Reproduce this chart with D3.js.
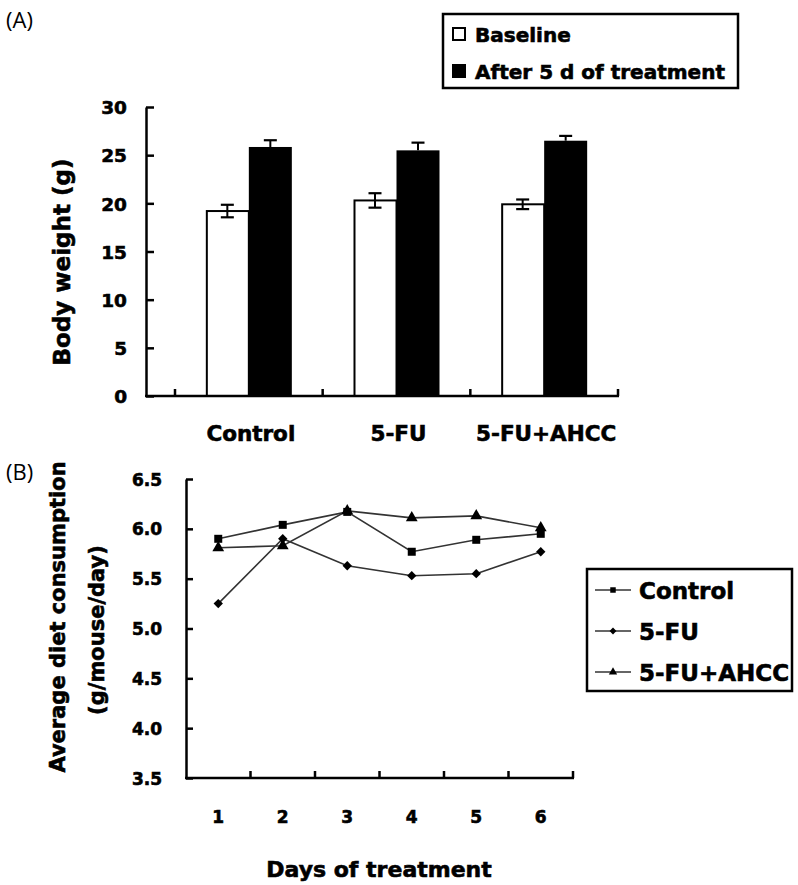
<!DOCTYPE html>
<html>
<head>
<meta charset="utf-8">
<script src="https://cdn.jsdelivr.net/npm/d3@7/dist/d3.min.js"></script>
<style>
  html, body { margin: 0; padding: 0; background: #fff; }
  svg { display: block; }
  .bold { font-family: "DejaVu Sans", sans-serif; font-weight: bold; fill: #000; stroke: #000; stroke-width: 0.6px; }
  .panel { font-family: "Open Sans", "Noto Sans", sans-serif; fill: #000; }
</style>
</head>
<body>
<script>
// ---------- Panel A data ----------
const categoriesA = ["Control", "5-FU", "5-FU+AHCC"];
const seriesA = ["Baseline", "After 5 d of treatment"];
const baselineVals = [19.2, 20.3, 19.9];
const baselineErr = [0.65, 0.75, 0.5];
const afterVals = [25.85, 25.5, 26.5];
const afterErr = [0.7, 0.8, 0.5];
const yTicksA = [0, 5, 10, 15, 20, 25, 30];

// ---------- Panel B data ----------
const days = [1, 2, 3, 4, 5, 6];
const seriesB = ["Control", "5-FU", "5-FU+AHCC"];
const controlDiet = [5.90, 6.04, 6.17, 5.77, 5.89, 5.95];
const fuDiet = [5.25, 5.90, 5.63, 5.53, 5.55, 5.77];
const ahccDiet = [5.81, 5.83, 6.18, 6.11, 6.13, 6.01];
const yTicksB = [3.5, 4.0, 4.5, 5.0, 5.5, 6.0, 6.5];

const W = 798, H = 885;
const svg = d3.select("body").append("svg").attr("width", W).attr("height", H);

// ================= PANEL A =================
const gA = svg.append("g");
gA.append("text").attr("class", "panel").attr("x", 6).attr("y", 28)
  .attr("font-size", 22).text("(A)");

const yA = d3.scaleLinear().domain([0, 30]).range([396, 107]);
const axisLeftX = 146;
const xA = d3.scaleBand().domain(categoriesA).range([175, 618]);
const barW = 43;
const xSub = d3.scaleBand().domain(seriesA)
  .range([xA.bandwidth() / 2 - barW, xA.bandwidth() / 2 + barW]);

const dataA = categoriesA.map((c, i) => ({
  c,
  vals: [
    { s: seriesA[0], v: baselineVals[i], e: baselineErr[i] },
    { s: seriesA[1], v: afterVals[i], e: afterErr[i] }
  ]
}));

const grp = gA.selectAll(".grp").data(dataA).join("g")
  .attr("transform", d => `translate(${xA(d.c)},0)`);

grp.selectAll("rect").data(d => d.vals).join("rect")
  .attr("x", d => xSub(d.s) + (d.s === seriesA[0] ? 1 : 0))
  .attr("width", d => xSub.bandwidth() - (d.s === seriesA[0] ? 1 : 0))
  .attr("y", d => yA(d.v))
  .attr("height", d => yA(0) - yA(d.v))
  .attr("fill", d => d.s === seriesA[0] ? "#fff" : "#000")
  .attr("stroke", "#000")
  .attr("stroke-width", d => d.s === seriesA[0] ? 2 : 0);

const capW = 13;
grp.selectAll(".err").data(d => d.vals).join("g").attr("class", "err")
  .each(function (d) {
    const g = d3.select(this);
    const cx = xSub(d.s) + xSub.bandwidth() / 2;
    const isBase = d.s === seriesA[0];
    const lo = isBase ? d.v - d.e : d.v;
    g.append("line").attr("x1", cx).attr("x2", cx)
      .attr("y1", yA(lo)).attr("y2", yA(d.v + d.e))
      .attr("stroke", "#000").attr("stroke-width", 2);
    g.append("line").attr("x1", cx - capW / 2).attr("x2", cx + capW / 2)
      .attr("y1", yA(d.v + d.e)).attr("y2", yA(d.v + d.e))
      .attr("stroke", "#000").attr("stroke-width", 2.2);
    if (isBase) {
      g.append("line").attr("x1", cx - capW / 2).attr("x2", cx + capW / 2)
        .attr("y1", yA(d.v - d.e)).attr("y2", yA(d.v - d.e))
        .attr("stroke", "#000").attr("stroke-width", 2.2);
    }
  });

const yAxisA = gA.append("g").attr("transform", `translate(${axisLeftX},0)`)
  .call(d3.axisLeft(yA).tickValues(yTicksA).tickFormat(d3.format("d"))
    .tickSize(-8).tickSizeOuter(0).tickPadding(19));
yAxisA.select(".domain").attr("stroke-width", 2.5);
yAxisA.selectAll(".tick line").attr("stroke-width", 2.5);
yAxisA.selectAll("text").attr("class", "bold").attr("font-size", 18.5)
  .attr("dy", "0.36em");

gA.append("line").attr("x1", axisLeftX - 1).attr("x2", xA.range()[1] + 1)
  .attr("y1", yA(0)).attr("y2", yA(0))
  .attr("stroke", "#000").attr("stroke-width", 2.5);
const boundsA = categoriesA.map(c => xA(c)).concat([xA.range()[1]]);
gA.selectAll(".xtickA").data(boundsA).join("line")
  .attr("x1", d => d).attr("x2", d => d)
  .attr("y1", yA(0)).attr("y2", yA(0) - 7)
  .attr("stroke", "#000").attr("stroke-width", 2.5);
gA.selectAll(".xlabA").data(categoriesA).join("text")
  .attr("class", "bold").attr("font-size", 21.5)
  .attr("text-anchor", "middle")
  .attr("x", d => xA(d) + xA.bandwidth() / 2 + 2)
  .attr("y", 441)
  .text(d => d);

gA.append("text").attr("class", "bold").attr("font-size", 23)
  .attr("text-anchor", "middle")
  .attr("transform", "translate(70,262) rotate(-90)")
  .text("Body weight (g)");

const legA = gA.append("g");
legA.append("rect").attr("x", 443).attr("y", 14).attr("width", 295).attr("height", 74)
  .attr("fill", "#fff").attr("stroke", "#000").attr("stroke-width", 2.5);
seriesA.forEach((s, i) => {
  const cy = 34 + i * 37;
  legA.append("rect").attr("x", 453).attr("y", cy - 6).attr("width", 12).attr("height", 12)
    .attr("fill", i === 0 ? "#fff" : "#000").attr("stroke", "#000").attr("stroke-width", 2);
  legA.append("text").attr("class", "bold").attr("font-size", 20)
    .attr("x", 475).attr("y", cy + 8).text(s);
});

// ================= PANEL B =================
const gB = svg.append("g");
gB.append("text").attr("class", "panel").attr("x", 6).attr("y", 480)
  .attr("font-size", 22).text("(B)");

const yB = d3.scaleLinear().domain([3.5, 6.5]).range([778, 479]);
const axisLeftXB = 186;
const xB = d3.scaleBand().domain(days).range([186, 573]);

const yAxisB = gB.append("g").attr("transform", `translate(${axisLeftXB},0)`)
  .call(d3.axisLeft(yB).tickValues(yTicksB).tickFormat(d3.format(".1f"))
    .tickSize(-7).tickSizeOuter(0).tickPadding(24));
yAxisB.select(".domain").attr("stroke-width", 2.5);
yAxisB.selectAll(".tick line").attr("stroke-width", 2.5);
yAxisB.selectAll("text").attr("class", "bold").attr("font-size", 17)
  .attr("dy", "0.36em");

gB.append("line").attr("x1", axisLeftXB - 1).attr("x2", xB.range()[1] + 1)
  .attr("y1", yB(3.5)).attr("y2", yB(3.5))
  .attr("stroke", "#000").attr("stroke-width", 2.5);
const boundsB = days.slice(1).map(d => xB(d)).concat([xB.range()[1]]);
gB.selectAll(".xtickB").data(boundsB).join("line")
  .attr("x1", d => d).attr("x2", d => d)
  .attr("y1", yB(3.5)).attr("y2", yB(3.5) - 7)
  .attr("stroke", "#000").attr("stroke-width", 2.5);
gB.selectAll(".xlabB").data(days).join("text")
  .attr("class", "bold").attr("font-size", 17)
  .attr("text-anchor", "middle")
  .attr("x", d => xB(d) + xB.bandwidth() / 2)
  .attr("y", 823)
  .text(d => d);

gB.append("text").attr("class", "bold").attr("font-size", 22)
  .attr("text-anchor", "middle").attr("x", 379).attr("y", 877)
  .text("Days of treatment");
gB.append("text").attr("class", "bold").attr("font-size", 21)
  .attr("text-anchor", "middle")
  .attr("transform", "translate(65,617) rotate(-90)")
  .text("Average diet consumption");
gB.append("text").attr("class", "bold").attr("font-size", 21)
  .attr("text-anchor", "middle")
  .attr("transform", "translate(104,630) rotate(-90)")
  .text("(g/mouse/day)");

const seriesBData = [
  { name: seriesB[0], vals: controlDiet, sym: d3.symbolSquare, size: 64 },
  { name: seriesB[1], vals: fuDiet, sym: d3.symbolDiamond2, size: 56 },
  { name: seriesB[2], vals: ahccDiet, sym: d3.symbolTriangle, size: 60 }
];
const cxB = d => xB(d) + xB.bandwidth() / 2;
const line = d3.line().x((v, i) => cxB(days[i])).y(v => yB(v));

seriesBData.forEach(s => {
  gB.append("path").attr("d", line(s.vals)).attr("fill", "none")
    .attr("stroke", "#333").attr("stroke-width", 1.6);
});
seriesBData.forEach(s => {
  gB.selectAll(null).data(s.vals).join("path")
    .attr("transform", (v, i) => `translate(${cxB(days[i])},${yB(v)})`)
    .attr("d", d3.symbol().type(s.sym).size(s.size))
    .attr("fill", "#000");
});

const legB = gB.append("g");
legB.append("rect").attr("x", 587).attr("y", 569).attr("width", 205).attr("height", 122)
  .attr("fill", "#fff").attr("stroke", "#000").attr("stroke-width", 2.5);
seriesBData.forEach((s, i) => {
  const cy = 590 + i * 41;
  legB.append("line").attr("x1", 595).attr("x2", 631).attr("y1", cy).attr("y2", cy)
    .attr("stroke", "#333").attr("stroke-width", 1.6);
  legB.append("path").attr("transform", `translate(613,${cy})`)
    .attr("d", d3.symbol().type(s.sym).size(30)).attr("fill", "#000");
  legB.append("text").attr("class", "bold").attr("font-size", 23)
    .attr("x", 639).attr("y", cy + 8.5).text(s.name);
});
</script>
</body>
</html>
